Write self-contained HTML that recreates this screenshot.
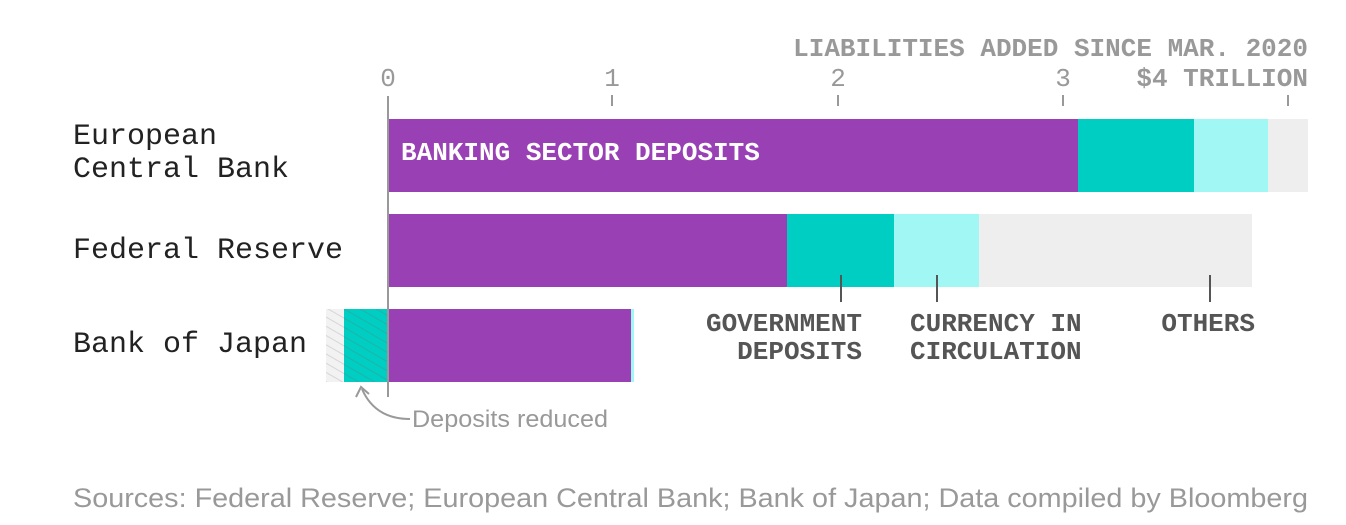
<!DOCTYPE html>
<html><head><style>
html,body{margin:0;padding:0;background:#fff;}
svg{display:block;}
.m{font-family:"Liberation Mono",monospace;}
</style></head><body>
<svg width="1346" height="525" viewBox="0 0 1346 525">
<defs>
<pattern id="hg" width="8" height="8" patternUnits="userSpaceOnUse" patternTransform="rotate(-60)">
<rect width="8" height="8" fill="#f2f2f2"/><line x1="0" y1="0" x2="0" y2="8" stroke="#d6d6d6" stroke-width="2"/></pattern>
<pattern id="ht" width="8" height="8" patternUnits="userSpaceOnUse" patternTransform="rotate(-60)">
<rect width="8" height="8" fill="#00cec2"/><line x1="0" y1="0" x2="0" y2="8" stroke="#1fb3a9" stroke-width="2"/></pattern>
</defs>
<g class="m" font-size="26" font-weight="bold" fill="#999">
<text x="1308" y="56" text-anchor="end">LIABILITIES ADDED SINCE MAR. 2020</text>
<text x="1308" y="86" text-anchor="end">$4 TRILLION</text>
<text x="388" y="86" text-anchor="middle" font-weight="normal">0</text>
<text x="612" y="86" text-anchor="middle" font-weight="normal">1</text>
<text x="838" y="86" text-anchor="middle" font-weight="normal">2</text>
<text x="1063" y="86" text-anchor="middle" font-weight="normal">3</text>
</g>
<g stroke="#999" stroke-width="2">
<line x1="612" y1="95" x2="612" y2="106"/><line x1="838" y1="95" x2="838" y2="106"/>
<line x1="1063" y1="95" x2="1063" y2="106"/><line x1="1288" y1="95" x2="1288" y2="106"/>
</g>
<g class="m" font-size="30" fill="#222">
<text x="73" y="144">European</text>
<text x="73" y="177">Central Bank</text>
<text x="73" y="258">Federal Reserve</text>
<text x="73" y="352">Bank of Japan</text>
</g>
<rect x="388" y="119" width="690" height="73" fill="#9940b5"/>
<rect x="1078" y="119" width="116" height="73" fill="#00cec2"/>
<rect x="1194" y="119" width="74" height="73" fill="#a1f7f3"/>
<rect x="1268" y="119" width="40" height="73" fill="#eeeeee"/>
<text class="m" x="401" y="160" font-size="26" font-weight="bold" fill="#fff">BANKING SECTOR DEPOSITS</text>
<rect x="388" y="214" width="399" height="73" fill="#9940b5"/>
<rect x="787" y="214" width="107" height="73" fill="#00cec2"/>
<rect x="894" y="214" width="85" height="73" fill="#a1f7f3"/>
<rect x="979" y="214" width="273" height="73" fill="#eeeeee"/>
<rect x="326" y="309" width="18" height="73" fill="url(#hg)"/>
<rect x="344" y="309" width="44" height="73" fill="url(#ht)"/>
<rect x="388" y="309" width="243" height="73" fill="#9940b5"/>
<rect x="631" y="309" width="3" height="73" fill="#a1f7f3"/>
<line x1="388" y1="96" x2="388" y2="397" stroke="#999" stroke-width="2"/>
<g stroke="#555" stroke-width="2">
<line x1="841" y1="275" x2="841" y2="302"/><line x1="937" y1="275" x2="937" y2="302"/><line x1="1210" y1="275" x2="1210" y2="302"/>
</g>
<g class="m" font-size="26" font-weight="bold" fill="#555">
<text x="862" y="331" text-anchor="end">GOVERNMENT</text>
<text x="862" y="359" text-anchor="end">DEPOSITS</text>
<text x="910" y="331">CURRENCY IN</text>
<text x="910" y="359">CIRCULATION</text>
<text x="1255" y="331" text-anchor="end">OTHERS</text>
</g>
<path d="M410,419 Q375,419 362,389" fill="none" stroke="#999" stroke-width="2"/>
<path d="M356,397 L361,387 L369,394" fill="none" stroke="#999" stroke-width="2"/>
<text x="412" y="427" font-family="Liberation Sans,sans-serif" font-size="24" fill="#999" textLength="196" lengthAdjust="spacingAndGlyphs">Deposits reduced</text>
<text x="73" y="507" font-family="Liberation Sans,sans-serif" font-size="27" fill="#999" textLength="1235" lengthAdjust="spacingAndGlyphs">Sources: Federal Reserve; European Central Bank; Bank of Japan; Data compiled by Bloomberg</text>
</svg>
</body></html>
